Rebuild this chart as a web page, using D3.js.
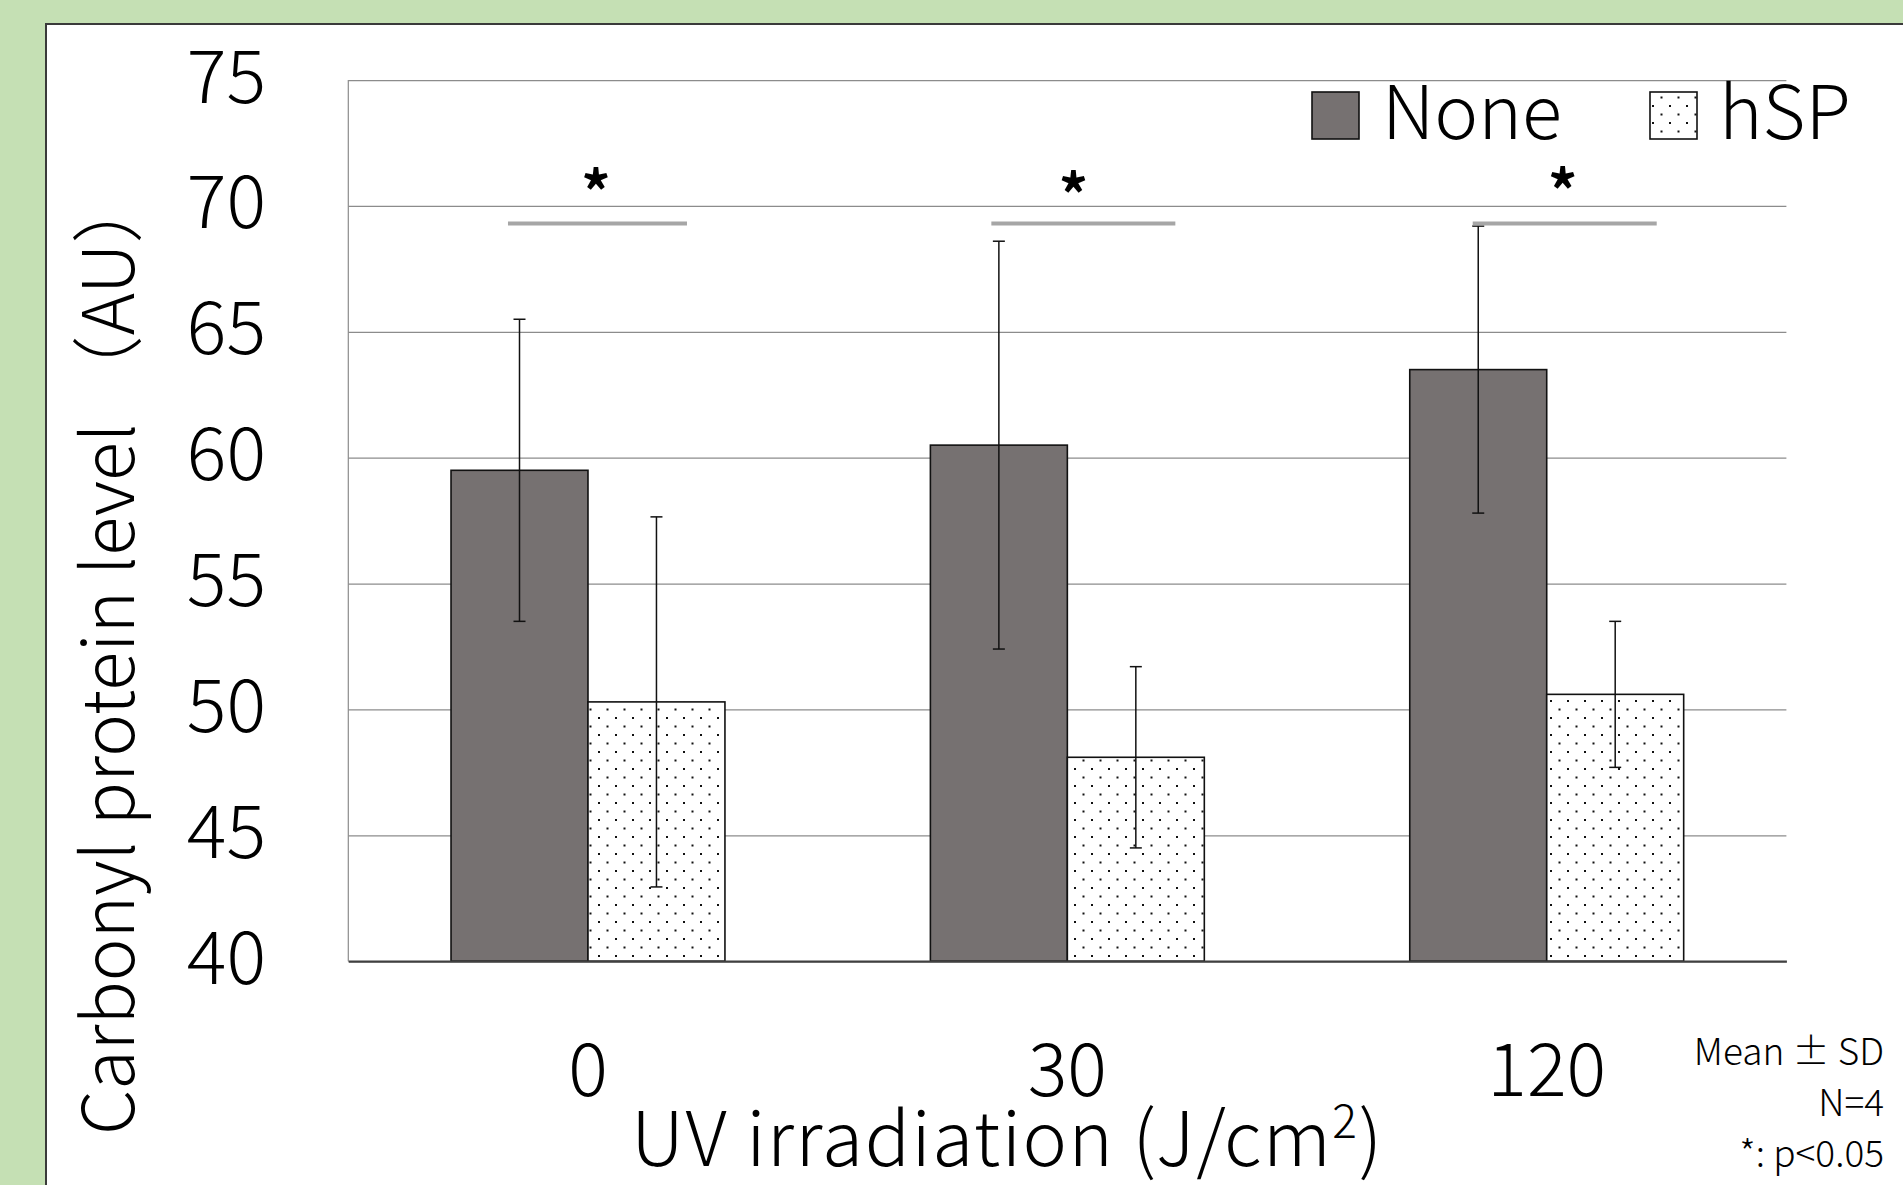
<!DOCTYPE html>
<html>
<head>
<meta charset="utf-8">
<script src="https://cdn.jsdelivr.net/npm/d3@7"></script>
<style>
  html, body { margin: 0; padding: 0; background: #c5e0b4; overflow: hidden; }
  text { font-family: "Noto Sans CJK JP", "Open Sans", sans-serif; font-weight: 300; fill: #000; }
</style>
</head>
<body>
<svg id="chart" width="1903" height="1185"></svg>
<script>
// data
const categories = ["0", "30", "120"]
const series = ["None", "hSP"]
const noneMean = [59.5, 60.5, 63.5]
const noneSD = [6.0, 8.1, 5.7]
const hspMean = [50.3, 48.1, 50.6]
const hspSD = [7.35, 3.6, 2.9]
const yTicks = [40, 45, 50, 55, 60, 65, 70, 75]
const sigLevel = 69.3 // value where the significance bars sit
const notes = ["Mean ± SD", "N=4", "*: p<0.05"]

// layout
const W = 1903, H = 1185
const plot = { left: 348.3, right: 1786.4, top: 80.1, bottom: 961.2 }
const fontSize = 72

const svg = d3.select("#chart")

// white panel on green background
svg.append("rect")
  .attr("x", 46).attr("y", 24)
  .attr("width", W).attr("height", H)
  .attr("fill", "#fff")
  .attr("stroke", "#3a3a3a")
  .attr("stroke-width", 2)

// dotted fill for hSP
const defs = svg.append("defs")
const pat = defs.append("pattern")
  .attr("id", "dots")
  .attr("patternUnits", "userSpaceOnUse")
  .attr("width", 17).attr("height", 17)
pat.append("rect").attr("width", 17).attr("height", 17).attr("fill", "#fff")
pat.append("rect").attr("x", 3).attr("y", 3).attr("width", 2).attr("height", 2).attr("fill", "#111")
pat.append("rect").attr("x", 11.5).attr("y", 11.5).attr("width", 2).attr("height", 2).attr("fill", "#111")

const fills = { None: "#767171", hSP: "url(#dots)" }

// scales
const y = d3.scaleLinear().domain([40, 75]).range([plot.bottom, plot.top])
const x0 = d3.scaleBand().domain(categories).range([plot.left, plot.right]).padding(0)
const x1 = d3.scaleBand().domain(series).range([0, x0.bandwidth()]).paddingInner(0).paddingOuter(0.75)

// gridlines + y labels
const yAxis = d3.axisLeft(y).tickValues(yTicks).tickSize(0).tickPadding(0)
const yg = svg.append("g").attr("transform", "translate(" + plot.left + ",0)")
yg.call(yAxis)
yg.select(".domain").remove()
yg.selectAll(".tick text")
  .attr("x", 266 - plot.left)
  .attr("dy", null)
  .attr("y", 22)
  .attr("text-anchor", "end")
  .style("font-size", "74px")
  .style("font-family", null)
yg.selectAll(".tick line")
  .attr("x2", plot.right - plot.left)
  .attr("stroke", "#8c8c8c")
  .attr("stroke-width", 1.2)

// left plot edge
svg.append("line")
  .attr("x1", plot.left).attr("x2", plot.left)
  .attr("y1", plot.top).attr("y2", plot.bottom)
  .attr("stroke", "#8c8c8c").attr("stroke-width", 1.2)

// rows for bars
const rows = []
categories.forEach(function (c, i) {
  rows.push({ cat: c, s: "None", mean: noneMean[i], sd: noneSD[i] })
  rows.push({ cat: c, s: "hSP", mean: hspMean[i], sd: hspSD[i] })
})

svg.append("g").selectAll("rect")
  .data(rows)
  .enter()
  .append("rect")
  .attr("x", function (d) { return x0(d.cat) + x1(d.s) })
  .attr("y", function (d) { return y(d.mean) })
  .attr("width", x1.bandwidth())
  .attr("height", function (d) { return y(40) - y(d.mean) })
  .attr("fill", function (d) { return fills[d.s] })
  .attr("stroke", "#111")
  .attr("stroke-width", 1.6)

// x axis baseline
const xAxis = d3.axisBottom(x0).tickSize(0).tickPadding(0)
const xg = svg.append("g").attr("transform", "translate(0," + plot.bottom + ")")
xg.call(xAxis)
xg.select(".domain").attr("stroke", "#404040").attr("stroke-width", 2.2)
xg.selectAll(".tick text")
  .attr("y", 1096 - plot.bottom)
  .attr("dy", null)
  .style("font-size", "74px")
  .style("font-family", null)

// error bars
const eb = svg.append("g").selectAll("g")
  .data(rows)
  .enter()
  .append("g")
  .attr("transform", function (d) { return "translate(" + (x0(d.cat) + x1(d.s) + x1.bandwidth() / 2) + ",0)" })
eb.append("line")
  .attr("y1", function (d) { return y(d.mean + d.sd) })
  .attr("y2", function (d) { return y(d.mean - d.sd) })
  .attr("stroke", "#111").attr("stroke-width", 1.5)
eb.selectAll(".cap")
  .data(function (d) { return [d.mean + d.sd, d.mean - d.sd] })
  .enter()
  .append("line")
  .attr("x1", -6).attr("x2", 6)
  .attr("y1", function (v) { return y(v) })
  .attr("y2", function (v) { return y(v) })
  .attr("stroke", "#111").attr("stroke-width", 1.5)

// significance marks, hand placed in the original
const sigMarks = [
  { cat: "0", from: -80, to: 99, star: 8, starY: 180 },
  { cat: "30", from: -76, to: 108, star: 6, starY: 183 },
  { cat: "120", from: -74, to: 110, star: 16, starY: 179 }
]
const sg = svg.append("g").selectAll("g")
  .data(sigMarks)
  .enter()
  .append("g")
  .attr("transform", function (d) { return "translate(" + (x0(d.cat) + x0.bandwidth() / 2) + ",0)" })
sg.append("line")
  .attr("x1", function (d) { return d.from })
  .attr("x2", function (d) { return d.to })
  .attr("y1", y(sigLevel)).attr("y2", y(sigLevel))
  .attr("stroke", "#a6a6a6").attr("stroke-width", 4)
sg.append("text")
  .attr("x", function (d) { return d.star })
  .attr("y", function (d) { return d.starY + 34 })
  .attr("text-anchor", "middle")
  .style("font-size", "58px")
  .style("font-weight", 700)
  .text("*")

// legend
const legend = svg.append("g").selectAll("g")
  .data([{ s: "None", x: 1312, tx: 1382 }, { s: "hSP", x: 1650, tx: 1719 }])
  .enter()
  .append("g")
legend.append("rect")
  .attr("x", function (d) { return d.x })
  .attr("y", 92)
  .attr("width", 47).attr("height", 47)
  .attr("fill", function (d) { return fills[d.s] })
  .attr("stroke", "#111").attr("stroke-width", 1.6)
legend.append("text")
  .attr("x", function (d) { return d.tx })
  .attr("y", 139)
  .style("font-size", "74px")
  .text(function (d) { return d.s })

// axis titles
const xt = svg.append("text")
  .attr("x", (plot.left + plot.right) / 2 - 60)
  .attr("y", 1166)
  .attr("text-anchor", "middle")
  .style("font-size", "75px")
  .style("letter-spacing", "1.5px")
xt.append("tspan").text("UV irradiation (J/cm")
xt.append("tspan").attr("dy", -28).style("font-size", "46px").text("2")
xt.append("tspan").attr("dy", 28).text(")")

svg.append("text")
  .attr("transform", "translate(134,1135) rotate(-90)")
  .attr("text-anchor", "start")
  .style("font-size", fontSize + "px")
  .text("Carbonyl protein level （AU）")

// notes bottom right
svg.append("g").selectAll("text")
  .data(notes)
  .enter()
  .append("text")
  .attr("x", 1884)
  .attr("y", function (d, i) { return 1065 + i * 51 })
  .attr("text-anchor", "end")
  .style("font-size", "37px")
  .text(function (d) { return d })
</script>
</body>
</html>
